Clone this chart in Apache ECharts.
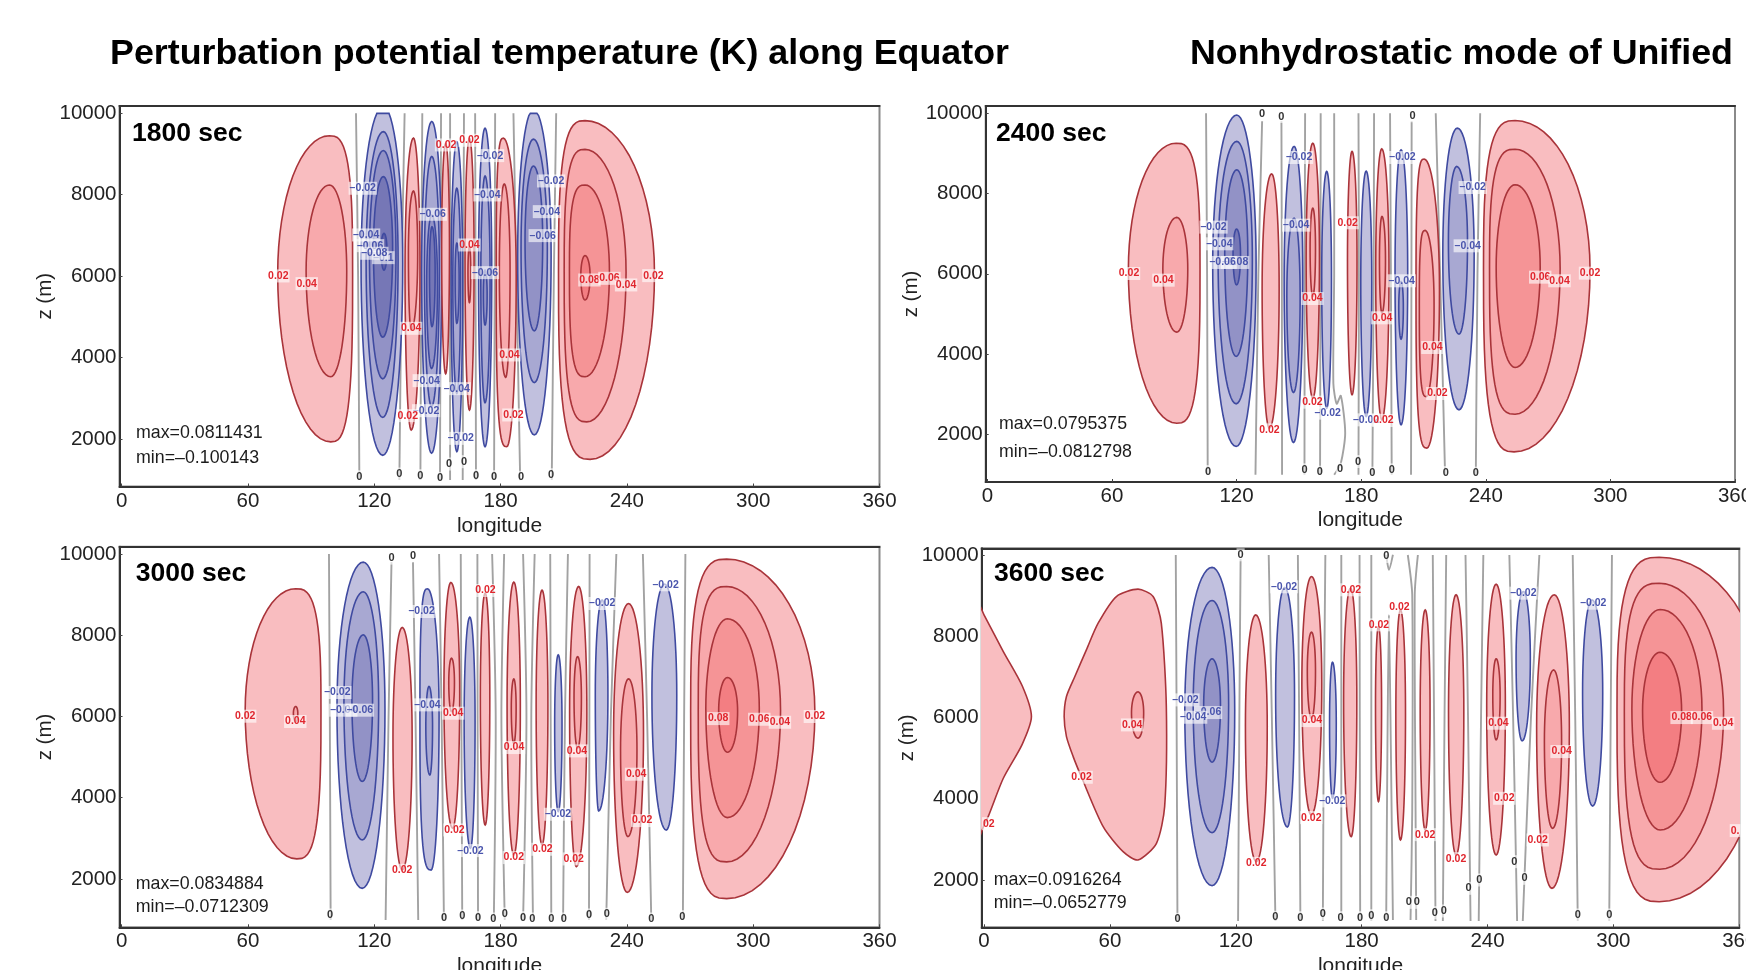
<!DOCTYPE html>
<html><head><meta charset="utf-8">
<style>html,body{margin:0;padding:0;background:#fff;overflow:hidden}#c{width:1746px;height:970px}</style>
<script src="https://cdn.jsdelivr.net/npm/echarts@6/dist/echarts.min.js"></script>
</head><body><div id="c"></div>
<script>
// Axis ticks
const lonTicks = [0,60,120,180,240,300,360];
const zTicks = [2000,4000,6000,8000,10000];
const mainTitleLeft = "Perturbation potential temperature (K) along Equator";
const mainTitleRight = "Nonhydrostatic mode of Unified";

// contour rows: level, lonLeft, lonRight, zBottom, zTop, lonAtTop, lonAtBottom
const contours1800 = [
[.02,74.1,109.7,1930,9450,98.7,99.3],[.04,87.6,106.9,3530,8240,98.7,99.3],
[-.02,113.7,133.5,1600,10165,124.3,124],[-.04,116.1,131.3,2530,9550,124.3,124],[-.06,117.7,130.3,3480,9085,124.3,124],[-.08,119.6,128.7,4500,8445,124.3,124],[-.10,123.2,126,6150,7050,124.6,124.6],
[.02,134.6,141.7,2220,9390,138.6,137.5],[.04,136.2,140.6,4680,8090,138.6,137.5],
[-.02,142.5,152,1650,9800,147.3,147.2],[-.04,143.8,150.9,2800,8940,147.3,147.2],[-.06,144.9,150,3735,7500,147.3,147.2],[-.08,146.2,148.9,4760,7215,147.4,147.4],
[.02,152,155.7,3600,9265,153.9,153.9],
[-.02,156.5,162,1690,9305,159.2,159.2],[-.04,157.3,161,3120,8160,159.2,159.2],[-.06,158.4,160.3,4840,6810,159.2,159.2],
[.02,163.1,167.4,2710,9390,165.2,165.2],[.04,164.5,165.8,5350,6725,165.2,165.2],
[-.02,169.5,175.8,1810,9635,172.6,172.6],[-.04,170.6,175,2890,8460,172.6,172.6],[-.06,171.8,173.6,4800,6150,172.6,172.6],
[.02,177.9,187.4,1810,9390,181.3,182.9],[.04,179.4,184.5,3515,8265,181.7,182.4],
[-.02,188.1,204,2100,10100,195.6,196],[-.04,189.7,202.2,3385,9365,195.6,196],[-.06,191.6,200,4655,8705,195.6,196],
[.02,207.5,253.1,1500,9820,220.1,222.5],[.04,210.2,239.6,2420,9115,220.1,220.9],[.06,212.7,231.7,3530,8240,220.1,220.1],[.08,218.1,222.5,5415,6505,220.1,220.1]
];
const contours2400 = [
[.02,67.9,102.4,2275,9255,90.9,91.2],[.04,84.5,96.5,4545,7405,91.2,91.2],
[-.02,108.5,129.4,1695,9955,120.1,119.8],[-.04,111.1,127.6,2760,9300,120.1,119.8],[-.06,114.3,125.4,3940,8590,120.1,119.8],[-.08,118.3,121.9,5725,7115,120,120],
[.02,132.3,140.5,2150,8490,136.9,135.8],
[-.02,142.9,151.9,1795,9175,147.7,147.4],[-.04,144.2,150.6,3040,7385,147.7,147.4],
[.02,153.5,159.9,2900,9255,156.7,156.7],[.04,155.4,158,5435,7635,156.7,156.7],
[-.02,161,165.7,2650,8550,163.4,163.4],
[.02,173.4,178,2985,9050,175.6,175.6],
[-.02,179.8,185.1,2445,8560,182.4,182.4],
[.02,187,193.4,2360,9115,189.9,189.9],[.04,188.8,191.7,5020,7430,190,190],
[-.02,196.3,202.4,2235,9090,199.2,199.2],[-.04,198.1,200.3,4370,5810,199.2,199.2],
[.02,206.4,217.7,1655,8860,210.3,211.6],[.04,208,215.1,2940,7080,210.8,211.3],
[-.02,219.3,234.4,2610,9630,226.3,227.1],[-.04,222,231.2,4495,8675,226,227.1],
[.02,238.9,290.2,1560,9820,254.1,253.6],[.04,241.8,275.8,2500,9105,254.1,254.1],[.06,245,266.2,3665,8220,254.1,254.1]
];
const contours3000 = [
[.02,58.7,94.7,2495,9145,82.7,83.2],[.04,81.6,83.7,5875,6245,82.7,82.7],
[-.02,102.3,125.1,1770,9800,114.8,114.3],[-.04,105.6,122.1,2960,9070,114.8,114.3],[-.06,109.4,119.2,4400,8010,114.8,114.3],
[.02,128.9,138,2220,8190,133.3,133.3],
[-.02,141.7,150.8,2220,9145,145.3,147],[-.04,144.5,147.7,4560,6740,146,146.4],
[.02,153.1,160.6,3250,9300,156.4,157.2],[.04,155.4,158.1,6120,7435,156.7,156.7],
[-.02,162.7,167.9,2755,8445,165.4,165.7],
[.02,170.4,174.9,3330,9035,172.7,172.7],
[.02,183.1,189.4,2590,9310,186.3,186.3],[.04,185.1,187.4,5340,6925,186.3,186.3],
[.02,196.9,202.5,2840,9110,199.7,199.7],
[-.02,205.7,209.2,3660,7520,207.4,207.4],
[.02,212.8,221,2305,9200,217.1,216],[.04,214.9,218.4,5220,7475,216.6,216.6],
[-.02,225,231,3675,8870,228.3,226.6],
[.02,233.7,247.9,1670,8780,240.8,240.2],[.04,237,244.8,3045,6925,240.8,240.5],
[-.02,251.9,263.7,3205,9260,257.9,258.7],
[.02,270.3,329.3,1515,9875,287.4,287.4],[.04,273.9,313,2420,9200,287.4,287.4],[.06,277.5,302.9,3510,8405,287.7,287.7],[.08,283.6,292.6,5120,6960,287.8,287.8]
];
const contours3600 = [
[.04,70.3,76.1,5490,6630,73.4,73.4],
[-.02,95.7,119.5,1860,9695,108.7,108.7],[-.04,99.7,116.6,3165,8880,108.7,108.7],[-.06,104.7,112.7,4900,7445,108.7,108.7],
[.02,124.6,135,2450,8525,129.5,129.8],
[-.02,139,148,3305,9200,143.3,144.6],
[.02,151.5,161,3600,9470,156.1,156],[.04,154.1,158,5980,8100,156.1,156.1],
[-.02,164.7,167.9,4010,7360,166.1,166.1],
[.02,171.4,177.7,3065,9185,174.7,175],
[.02,186.6,189.5,3930,8240,188,188],
[.02,196.3,200.9,2985,8650,198.5,198.5],
[.02,207.9,212.6,3230,8650,210.3,210.3],
[.02,221.4,228.7,2615,9020,225,225],
[.02,239.6,248.5,2615,9280,244.1,244.1],[.04,242.5,246,5450,7445,244.1,244.1],
[-.02,253.6,260.4,5425,9100,257.1,256.5],
[.02,263.4,279,1795,9020,271.8,270.7],[.04,267.1,275.3,3270,7170,271.5,271],
[-.02,285.3,294.9,3820,8895,289.8,290.1],
[.02,301.7,372.6,1465,9945,321.8,321.8],[.04,305.2,352.5,2265,9305,321.8,322.1],[.06,308.8,342.2,3230,8660,322.3,322.3],[.08,313.9,332.5,4405,7605,322.2,322.2]
];
// free-form closed contours in the 3600 sec panel: level and [lon, z] vertices
const freeform3600 = [
{level:.02, pts:[[-2,8730],[0,8527],[9.2,7624],[18.2,6780],[22.6,6023],[18.2,5340],[9.2,4504],[2,3560],[0,3354],[-2,3100]]},
{level:.02, pts:[[38.2,6023],[39.3,6515],[43.3,7008],[48.8,7665],[54.4,8321],[63.1,8978],[73.4,9159],[80.6,8978],[84.5,8321],[86.9,6269],[86.1,3806],[82.2,2903],[73.4,2492],[66.3,2698],[56.8,3313],[46.5,4528],[42.5,5037],[39.3,5530]]}
];

// zero contours: lonAtBottom, lonAtMiddle, lonAtTop, optional zTop
const zero1800 = [[112.9,112.3,111.3],[131.9,133,134.4],[141.9,142.3,142.8],[151.2,151.5,151.7],[156,156,156],[162,162.3,162.6],[168.3,168.1,167.9],[176.9,177.2,177.4],[189.3,187.5,186.1],[204.3,205.3,206.4]];
const zero2400 = [[106.1,105.8,105.3],[129.1,130.5,132.3,9800],[141.9,141.8,141.6,9800],[152.7,152.8,153],[160.2,160.4,160.5],[178.7,178.9,178.7],[185.4,186,186.2],[194.7,194.3,193.9],[204,204.2,204.3,9800],[220.4,218,215.9],[235.2,236,237.3]];
const zero3000 = [[99.3,98.9,98.5],[125.4,126.8,128.2,9800],[140.9,139.6,138.4,9800],[153.1,152,150.8],[161.8,161.4,161.1],[169.3,169.1,169],[176.8,177.7,176],[182,180.4,181.7],[190.7,192.3,190.7],[195.4,194.6,196.2],[204.1,203.8,203.6],[209.7,210.6,212],[222,222.2,222.3],[230.2,232.4,235],[251.6,249.6,247.6],[266.6,267.2,267.8]];
const zero3600 = [[92.2,91.8,91.4],[121.1,121.7,122.3,9900],[138.9,137.2,135.7],[150.8,150.2,149.6],[161.5,162,162.7],[170.3,170.3,170.3],[179.3,179.1,179],[184.6,184.6,184.6],[215.2,214.5,213.9],[218.7,219.5,220.3],[231.9,230.7,229.5],[235.8,236.9,238],[254.1,252.2,250.4],[256.8,260.7,264.7],[283,281.8,280.6],[298,298.7,299.3]];
// zero contours that bend: [lon, z] vertices
const zeroBent2400 = [[[167,990],[170.2,1280],[172.3,2030],[170.2,2960],[168.2,2760],[166.6,3270],[167,6000],[167,10000]]];
const zeroBent3600 = [
[[191.7,10005],[193,9635],[194.9,10005]],
[[191.7,1015],[192.3,5325],[193,8527],[193.9,5325],[194.9,1015]],
[[202,10000],[204.1,9020],[204.1,3683],[203.3,1015]],
[[206.8,10000],[205.3,9020],[205.7,3683],[206,1015]]
];

// contour labels: lon, z, text
const labels1800 = [[74.4,6005,"0.02"],[87.9,5816,"0.04"],[114.5,8159,"–0.02"],[116.1,7012,"–0.04"],[118,6750,"–0.06"],[124.3,6455,"–0.1"],[120,6562,"–0.08"],[147.8,7520,"–0.06"],[137.5,4719,"0.04"],[144.6,2696,"–0.02"],[135.9,2573,"0.02"],[144.9,3433,"–0.04"],[154.1,9223,"0.02"],[165.2,9338,"0.02"],[175,8961,"–0.02"],[173.7,7995,"–0.04"],[165.2,6766,"0.04"],[172.6,6087,"–0.06"],[159.2,3237,"–0.04"],[161.1,2016,"–0.02"],[184.2,4064,"0.04"],[186.1,2590,"0.02"],[204,8339,"–0.02"],[202,7585,"–0.04"],[200,6996,"–0.06"],[222.2,5906,"0.08"],[231.7,5947,"0.06"],[239.6,5784,"0.04"],[252.6,6013,"0.02"],
[112.9,1074,"0"],[131.9,1140,"0"],[141.9,1099,"0"],[151.2,1033,"0"],[155.5,1386,"0"],[162.6,1443,"0"],[168.3,1099,"0"],[176.9,1074,"0"],[189.7,1058,"0"],[204,1123,"0"]];
const labels2400 = [[68.2,6007,"0.02"],[84.8,5841,"0.04"],[108.9,7163,"–0.02"],[111.7,6747,"–0.04"],[119.3,6282,"–0.08"],[113.3,6282,"–0.06"],[135.8,2110,"0.02"],[150.1,8899,"–0.02"],[148.7,7212,"–0.04"],[156.5,5384,"0.04"],[156.5,2800,"0.02"],[163.9,2526,"–0.02"],[173.5,7271,"0.02"],[182.4,2359,"–0.02"],[190.7,2343,"0.02"],[190.1,4902,"0.04"],[199.9,8899,"–0.02"],[199.5,5825,"–0.04"],[214.3,4163,"0.04"],[216.7,3016,"0.02"],[233.7,8151,"–0.02"],[231.3,6697,"–0.04"],[266.2,5916,"0.06"],[275.5,5825,"0.04"],[290.2,6016,"0.02"],
[106.3,1071,"0"],[132.3,9988,"0"],[141.6,9921,"0"],[152.7,1113,"0"],[160.1,1055,"0"],[169.8,1129,"0"],[178.5,1321,"0"],[185.4,1030,"0"],[194.7,1113,"0"],[204.7,9938,"0"],[220.7,1046,"0"],[235.2,1030,"0"]];
const labels3000 = [[58.7,6007,"0.02"],[82.5,5876,"0.04"],[102.5,6590,"–0.02"],[105.3,6155,"–0.04"],[113.2,6155,"–0.06"],[133.3,2214,"0.02"],[142.5,8585,"–0.02"],[145.3,6286,"–0.04"],[157.5,6081,"0.04"],[158.1,3207,"0.02"],[165.7,2698,"–0.02"],[172.8,9102,"0.02"],[186.4,5235,"0.04"],[186.3,2526,"0.02"],[199.9,2731,"0.02"],[207.3,3593,"–0.02"],[216.3,5153,"0.04"],[214.7,2493,"0.02"],[228.3,8782,"–0.02"],[244.4,4579,"0.04"],[247.3,3437,"0.02"],[258.4,9242,"–0.02"],[283.4,5948,"0.08"],[302.9,5932,"0.06"],[312.7,5858,"0.04"],[329.3,6000,"0.02"],
[99,1114,"0"],[128.2,9899,"0"],[138.4,9956,"0"],[153.2,1032,"0"],[161.8,1089,"0"],[169.3,1048,"0"],[176.5,1015,"0"],[182,1138,"0"],[190.7,1048,"0"],[195.1,1015,"0"],[204.1,1015,"0"],[210,1015,"0"],[222,1114,"0"],[230.5,1130,"0"],[251.6,1015,"0"],[266.3,1073,"0"]];
const labels3600 = [[70.6,5817,"0.04"],[46.5,4528,"0.02"],[2.3,3387,"02"],[96,6433,"–0.02"],[106.8,6121,"–0.06"],[99.7,6006,"–0.04"],[143,9217,"–0.02"],[156.3,5924,"0.04"],[156,3535,"0.02"],[174.9,9143,"0.02"],[188.2,8281,"0.02"],[198,8707,"0.02"],[166,3946,"–0.02"],[129.8,2410,"0.02"],[210.3,3116,"0.02"],[225,2525,"0.02"],[245.2,5859,"0.04"],[248,4011,"0.02"],[257.1,9061,"–0.02"],[275.3,5161,"0.04"],[263.9,2985,"0.02"],[290.4,8814,"–0.02"],[332.5,5998,"0.08"],[342.2,5998,"0.06"],[352.3,5858,"0.04"],[358,3215,"0."],
[92.2,1031,"0"],[122.3,10005,"0"],[138.9,1080,"0"],[150.8,1072,"0"],[161.5,1163,"0"],[170,1072,"0"],[179.2,1072,"0"],[184.6,1121,"0"],[191.7,9964,"0"],[191.7,1072,"0"],[202.5,1450,"0"],[206.3,1450,"0"],[214.9,1196,"0"],[219.2,1237,"0"],[231,1795,"0"],[236.1,2000,"0"],[252.8,2451,"0"],[257.6,2041,"0"],[283,1138,"0"],[298,1138,"0"]];

const FONT = '"Liberation Sans", Arial, sans-serif';
const fills = {"0.02":"#f9bdc0","0.04":"#f8a9ac","0.06":"#f59496","0.08":"#f37e82","-0.02":"#c1c0de","-0.04":"#a8a8d2","-0.06":"#9292c6","-0.08":"#7677b6","-0.1":"#5f60a8"};
const strokeOf = l => l>0 ? "#a9343a" : "#3f4aa0";

// layout of the four plots (page pixels) and the axis ranges that fill them
const panels = [
 {sec:"1800 sec",max:"max=0.0811431",min:"min=–0.100143",box:[119.5,106,760,380.5],xMin:-1.05,yMin:833,yMax:10180,nameGap:29,secAt:[132,133.5],maxAt:[136,433],minAt:[136,458],c:contours1800,z:zero1800,zb:[],l:labels1800,f:[]},
 {sec:"2400 sec",max:"max=0.0795375",min:"min=–0.0812798",box:[985.7,106,749.3,376],xMin:-0.8,yMin:810,yMax:10182,nameGap:28,secAt:[996,133.5],maxAt:[999,424],minAt:[999,451.7],c:contours2400,z:zero2400,zb:zeroBent2400,l:labels2400,f:[]},
 {sec:"3000 sec",max:"max=0.0834884",min:"min=–0.0712309",box:[119.5,546.7,760,380.6],xMin:-1,yMin:810,yMax:10180,nameGap:28,secAt:[135.7,573.5],maxAt:[135.7,884],minAt:[135.7,906.7],c:contours3000,z:zero3000,zb:[],l:labels3000,f:[]},
 {sec:"3600 sec",max:"max=0.0916264",min:"min=–0.0652779",box:[981.7,548.3,757.6,379],xMin:-1.1,yMin:835,yMax:10165,nameGap:28,secAt:[994,573.5],maxAt:[993.7,880],minAt:[993.7,903.3],c:contours3600,z:zero3600,zb:zeroBent3600,l:labels3600,f:freeform3600}
];

// one quarter of a contour: superelliptic arc from the widest point to the tip
function arc(n,fn){const N=16,H=Math.PI/2,e=2/n,out=[];for(let i=0;i<N;i++){const t=i/N*H;out.push(fn(Math.pow(Math.cos(t),e),Math.pow(Math.sin(t),e)));}return out;}
function ring(r){
  const [lev,L,R,zB,zT,xT,xB]=r, zM=zB+0.55*(zT-zB);
  const wl=xT-L, wr=R-xT, nL=wr>=1.5*wl?3:2, nR=wl>=1.5*wr?3:2;
  const pts=[].concat(
    arc(nL,(c,s)=>[xT-(xT-L)*c, zM+(zT-zM)*s]),
    arc(nR,(c,s)=>[xT+(R-xT)*s, zM+(zT-zM)*c]),
    arc(nR,(c,s)=>[xB+(R-xB)*c, zM-(zM-zB)*s]),
    arc(nL,(c,s)=>[xB-(xB-L)*s, zM-(zM-zB)*c]));
  return pts.map(p=>[p[0],Math.min(p[1],10000)]);
}
const fillOf = l => fills[String(Math.round(l*100)/100)];

const grid=[],xAxis=[],yAxis=[],series=[],graphic=[];
const txt=(x,y,text,font,extra)=>({type:'text',x,y,z:50,style:Object.assign({text,font,fill:'#1c1c1c',verticalAlign:'middle'},extra||{})});
panels.forEach((p,i)=>{
  const [l,t,w,h]=p.box;
  grid.push({left:l,top:t,width:w,height:h,show:true,borderColor:'#8a8a8a',borderWidth:2,containLabel:false,outerBoundsMode:'none'});
  const xi=xAxis.length;
  xAxis.push({type:'value',gridIndex:i,min:p.xMin,max:360,position:'bottom',name:'longitude',nameLocation:'middle',nameGap:p.nameGap,
    nameTextStyle:{fontFamily:FONT,fontSize:21,color:'#222'},splitLine:{show:false},
    axisLine:{show:true,onZero:false,lineStyle:{color:'#333',width:2}},
    axisTick:{show:true,inside:true,length:3,customValues:lonTicks,lineStyle:{color:'#444',width:1}},
    axisLabel:{show:true,margin:4,fontFamily:FONT,fontSize:20.5,color:'#222',customValues:lonTicks,hideOverlap:false,formatter:v=>String(v)}});
  xAxis.push({type:'value',gridIndex:i,min:p.xMin,max:360,position:'top',splitLine:{show:false},
    axisLine:{show:true,onZero:false,lineStyle:{color:'#333',width:2}},axisTick:{show:false},axisLabel:{show:false}});
  yAxis.push({type:'value',gridIndex:i,min:p.yMin,max:p.yMax,name:'z (m)',nameLocation:'middle',nameGap:64,
    nameTextStyle:{fontFamily:FONT,fontSize:20.5,color:'#222'},splitLine:{show:false},
    axisLine:{show:true,onZero:false,lineStyle:{color:'#333',width:2}},
    axisTick:{show:true,inside:true,length:3,customValues:zTicks,lineStyle:{color:'#444',width:1}},
    axisLabel:{show:true,margin:3,fontFamily:FONT,fontSize:20.5,color:'#222',customValues:zTicks,hideOverlap:false,formatter:v=>String(v)}});
  const base={type:'custom',coordinateSystem:'cartesian2d',xAxisIndex:xi,yAxisIndex:i,silent:true,animation:false};
  const polyItem=(pts,level,smooth,api)=>({type:'polygon',shape:{points:pts.map(q=>api.coord(q)),smooth:smooth},
      style:{fill:fillOf(level),stroke:strokeOf(level),lineWidth:1.6}});
  const zeroRows=p.z.map(r=>[[r[0],990],[r[1],6000],[r[2],r[3]||10000]]).concat(p.zb);
  series.push(Object.assign({},base,{name:'zero'+i,clip:true,z:2,data:zeroRows.map((_,k)=>[k,0]),
    renderItem:(ps,api)=>({type:'polyline',shape:{points:zeroRows[ps.dataIndex].map(q=>api.coord(q)),smooth:0.25},
      style:{fill:null,stroke:'#a2a2a2',lineWidth:1.9}})}));
  if(p.f.length) series.push(Object.assign({},base,{name:'free'+i,clip:true,z:3,data:p.f.map((_,k)=>[k,0]),
    renderItem:(ps,api)=>polyItem(p.f[ps.dataIndex].pts,p.f[ps.dataIndex].level,0.25,api)}));
  series.push(Object.assign({},base,{name:'contours'+i,clip:true,z:4,data:p.c.map((_,k)=>[k,0]),
    renderItem:(ps,api)=>{const r=p.c[ps.dataIndex];return polyItem(ring(r),r[0],0,api);}}));
  series.push(Object.assign({},base,{name:'labels'+i,z:6,data:p.l.map((_,k)=>[k,0]),
    renderItem:(ps,api)=>{const r=p.l[ps.dataIndex],c=api.coord([r[0],r[1]]),s=r[2];
      const col=s==='0'?'#333':(s[0]==='–'?'#4a55ad':'#e0262e');
      return {type:'text',style:{x:c[0],y:c[1],text:s,fill:col,font:'bold '+(s==='0'?11:10.5)+'px '+FONT,align:'center',verticalAlign:'middle',
        backgroundColor:'rgba(255,255,255,0.62)',padding:[1,1]}};}}));
  graphic.push(txt(p.secAt[0],p.secAt[1],p.sec,'bold 26.5px '+FONT,{fill:'#000'}));
  graphic.push(txt(p.maxAt[0],p.maxAt[1],p.max,'17.8px '+FONT));
  graphic.push(txt(p.minAt[0],p.minAt[1],p.min,'17.8px '+FONT));
});
graphic.push(txt(110,54,mainTitleLeft,'bold 35.8px '+FONT,{fill:'#000'}));
graphic.push(txt(1190,54,mainTitleRight,'bold 35.8px '+FONT,{fill:'#000'}));

const chart=echarts.init(document.getElementById('c'),null,{renderer:'canvas',width:1746,height:970});
chart.setOption({animation:false,backgroundColor:'#fff',grid,xAxis,yAxis,series,graphic});
</script></body></html>
